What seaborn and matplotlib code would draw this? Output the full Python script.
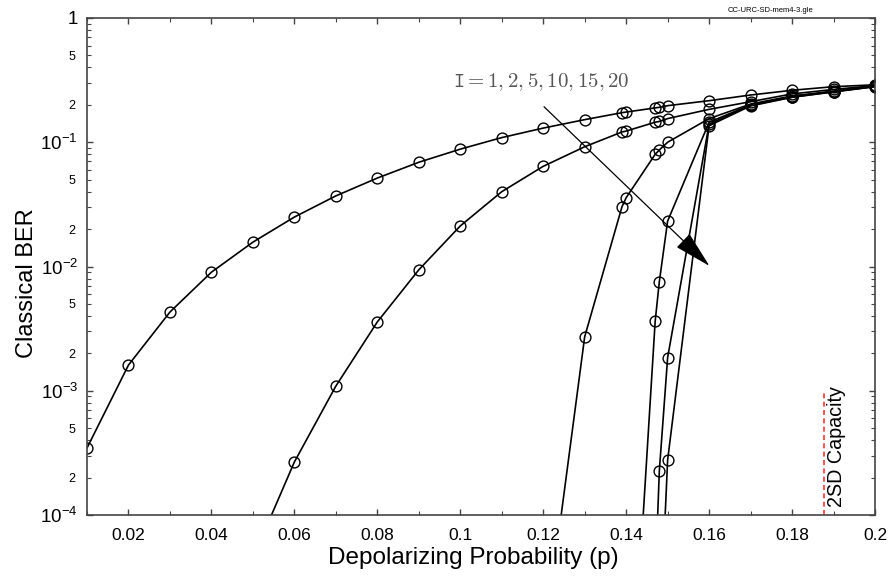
import numpy as np
import pandas as pd
import matplotlib
matplotlib.use("Agg")
import matplotlib.pyplot as plt
import matplotlib.ticker as mticker
import seaborn as sns

# ---- data ----
I_values = [1, 2, 5, 10, 15, 20]

p_I1 = [0.01, 0.02, 0.03, 0.04, 0.05, 0.06, 0.07, 0.08, 0.09, 0.10, 0.11, 0.12, 0.13,
        0.139, 0.14, 0.147, 0.148, 0.15, 0.16, 0.17, 0.18, 0.19, 0.20]
ber_I1 = [3.46e-4, 1.61e-3, 4.3e-3, 9.0e-3, 1.57e-2, 2.5e-2, 3.7e-2, 5.15e-2, 6.9e-2, 8.8e-2,
          0.109, 0.130, 0.152, 0.173, 0.175, 0.189, 0.191, 0.197, 0.216, 0.240, 0.262, 0.280, 0.290]

p_I2 = [0.05, 0.06, 0.07, 0.08, 0.09, 0.10, 0.11, 0.12, 0.13,
        0.139, 0.14, 0.147, 0.148, 0.15, 0.16, 0.17, 0.18, 0.19, 0.20]
ber_I2 = [4.5e-5, 2.67e-4, 1.09e-3, 3.58e-3, 9.4e-3, 2.12e-2, 4.0e-2, 6.4e-2, 9.2e-2,
          0.121, 0.123, 0.145, 0.147, 0.155, 0.184, 0.212, 0.245, 0.266, 0.286]

p_I5 = [0.12, 0.13, 0.139, 0.14, 0.147, 0.148, 0.15, 0.16, 0.17, 0.18, 0.19, 0.20]
ber_I5 = [8e-6, 2.72e-3, 3.03e-2, 3.58e-2, 8.0e-2, 8.67e-2, 0.100, 0.155, 0.203, 0.236, 0.258, 0.283]

p_I10 = [0.14, 0.147, 0.148, 0.15, 0.16, 0.17, 0.18, 0.19, 0.20]
ber_I10 = [6e-7, 3.64e-3, 7.55e-3, 2.32e-2, 0.145, 0.200, 0.233, 0.256, 0.282]

p_I15 = [0.147, 0.148, 0.15, 0.16, 0.17, 0.18, 0.19, 0.20]
ber_I15 = [2.9e-5, 2.27e-4, 1.85e-3, 0.140, 0.198, 0.231, 0.255, 0.281]

p_I20 = [0.148, 0.15, 0.16, 0.17, 0.18, 0.19, 0.20]
ber_I20 = [9e-6, 2.77e-4, 0.136, 0.196, 0.230, 0.254, 0.280]

capacity_p = 0.1878
capacity_ber = [1e-4, 1e-3]

x_tick_values = [0.02, 0.04, 0.06, 0.08, 0.10, 0.12, 0.14, 0.16, 0.18, 0.20]
x_tick_labels = ["0.02", "0.04", "0.06", "0.08", "0.1", "0.12", "0.14", "0.16", "0.18", "0.2"]
y_major_values = [1e-4, 1e-3, 1e-2, 1e-1, 1]
y_major_labels = [r"$\mathregular{10^{-4}}$", r"$\mathregular{10^{-3}}$",
                  r"$\mathregular{10^{-2}}$", r"$\mathregular{10^{-1}}$", "1"]

series = [(1, p_I1, ber_I1), (2, p_I2, ber_I2), (5, p_I5, ber_I5),
          (10, p_I10, ber_I10), (15, p_I15, ber_I15), (20, p_I20, ber_I20)]
df = pd.concat([pd.DataFrame({"I": i, "p": p, "ber": b}) for i, p, b in series],
               ignore_index=True)

# ---- style ----
sns.set_style("ticks")
plt.rcParams["font.family"] = ["Liberation Sans", "DejaVu Sans"]
plt.rcParams["axes.edgecolor"] = "#444444"
plt.rcParams["axes.linewidth"] = 1.2
plt.rcParams["text.color"] = "black"
plt.rcParams["axes.labelcolor"] = "black"
plt.rcParams["xtick.labelcolor"] = "black"
plt.rcParams["ytick.labelcolor"] = "black"

fig = plt.figure(figsize=(8.93, 5.79), dpi=100)
ax = fig.add_axes([87 / 893, 1 - 515 / 579, (875 - 87) / 893, (515 - 18) / 579])

sns.lineplot(data=df, x="p", y="ber", hue="I", palette=["black"] * 6,
             estimator=None, legend=False, ax=ax, linewidth=1.2,
             marker="o", markersize=7.8, markerfacecolor="none",
             markeredgecolor="black", markeredgewidth=1.0)

ax.set_yscale("log")
ax.set_xlim(0.01, 0.2)
ax.set_ylim(1e-4, 1)

# x ticks
ax.xaxis.set_major_locator(mticker.FixedLocator(x_tick_values))
ax.xaxis.set_major_formatter(mticker.FixedFormatter(x_tick_labels))
ax.xaxis.set_minor_locator(mticker.MultipleLocator(0.01))

# y ticks
ax.yaxis.set_major_locator(mticker.FixedLocator(y_major_values))
ax.yaxis.set_major_formatter(mticker.FixedFormatter(y_major_labels))
ax.yaxis.set_minor_locator(mticker.LogLocator(base=10, subs=np.arange(2, 10)))


def minor_fmt(v, pos):
    m = v / 10 ** np.floor(np.log10(v) + 1e-9)
    m = round(m)
    return str(m) if m in (2, 5) else ""


ax.yaxis.set_minor_formatter(mticker.FuncFormatter(minor_fmt))

ax.tick_params(axis="both", which="both", direction="in", top=True, right=True,
               color="#444444", labelcolor="black")
ax.tick_params(axis="both", which="major", length=4, width=1.0)
ax.tick_params(axis="both", which="minor", length=3, width=0.8)
ax.tick_params(axis="x", which="major", labelsize=12.5, pad=9)
ax.tick_params(axis="y", which="major", labelsize=13.5, pad=6.5)
ax.tick_params(axis="y", which="minor", labelsize=9, pad=8.5)

ax.set_xlabel("Depolarizing Probability (p)", fontsize=17.5)
ax.set_ylabel("Classical BER", fontsize=17)
ax.xaxis.set_label_coords((473.5 - 87) / 788, -(558 - 515) / 497)
ax.yaxis.set_label_coords(-(87 - 27) / 788, (515 - 283) / 497)
ax.xaxis.label.set_va("center")
ax.yaxis.label.set_va("center")

# capacity marker
ax.plot([capacity_p, capacity_p], capacity_ber, color="#ff3333", linestyle=(0, (3, 2)),
        linewidth=1.2)
ax.text(0.1907, 1.17e-4, "2SD Capacity", rotation=90, ha="center", va="bottom",
        fontsize=14.2)

# arrow annotation
ax.annotate("", xy=(0.1601, 0.0101), xytext=(0.1202, 0.193),
            arrowprops=dict(arrowstyle="-|>,head_length=2.4,head_width=0.6",
                            color="black", lw=0.9, shrinkA=0, shrinkB=0))
ax.text(0.1195, 0.305, r"$\mathtt{I}=1,2,5,10,15,20$", ha="center", va="center",
        fontsize=15, color="#555555", math_fontfamily="cm")

fig.text(813 / 893, 1 - 10 / 579, "CC-URC-SD-mem4-3.gle", ha="right", va="center",
         fontsize=5.5)

fig.savefig("out.png", dpi=100)
